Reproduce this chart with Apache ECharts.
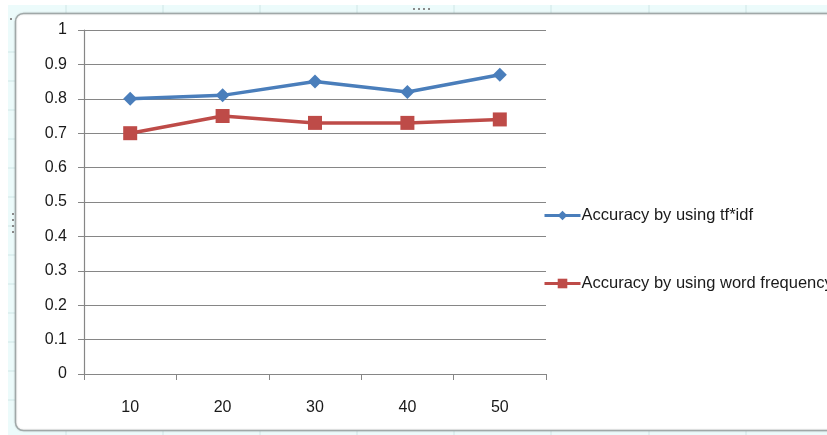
<!DOCTYPE html>
<html>
<head>
<meta charset="utf-8">
<script src="https://cdn.jsdelivr.net/npm/echarts@6/dist/echarts.min.js"></script>
<style>
html,body{margin:0;padding:0;background:#ffffff;}
#c{width:827px;height:435px;}
</style>
</head>
<body>
<div id="c"></div>
<script>
var categories = ['10', '20', '30', '40', '50'];
var tfidf = [0.80, 0.81, 0.85, 0.82, 0.87];
var wordFreq = [0.70, 0.75, 0.73, 0.73, 0.74];
var seriesNames = ['Accuracy by using tf*idf', 'Accuracy by using word frequency'];

var chart = echarts.init(document.getElementById('c'));
var font = 'Liberation Sans';

var bg = [];
bg.push({type:'rect', z:-10, silent:true, shape:{x:8,y:5,width:830,height:440}, style:{fill:'#ecfbfb'}});
[66,163,260,357,454,551,649,746].forEach(function(x){
  bg.push({type:'line', z:-9, silent:true, shape:{x1:x,y1:5,x2:x,y2:13}, style:{stroke:'#cfe6e6',lineWidth:1}});
  bg.push({type:'line', z:-9, silent:true, shape:{x1:x,y1:431,x2:x,y2:435}, style:{stroke:'#cfe6e6',lineWidth:1}});
});
[52,81,110,139,168,197,226,255,284,313,342,371,400].forEach(function(y){
  bg.push({type:'line', z:-9, silent:true, shape:{x1:8,y1:y,x2:15,y2:y}, style:{stroke:'#cfe6e6',lineWidth:1}});
});
bg.push({type:'rect', z:-8, silent:true, shape:{x:15.5,y:13.5,width:830,height:417,r:8},
  style:{fill:'#ffffff', stroke:'#a0a8a8', lineWidth:1.5, shadowColor:'rgba(0,0,0,0.15)', shadowBlur:2}});
[[10,18],[413,8],[418,8],[423,8],[428,8],[12,213],[12,219],[12,225],[12,231]].forEach(function(p){
  bg.push({type:'rect', z:-7, silent:true, shape:{x:p[0],y:p[1],width:2,height:2}, style:{fill:'#8a8a8a'}});
});

chart.setOption({
  animation:false,
  backgroundColor:'#ffffff',
  graphic: bg,
  grid:{left:84, right:281, top:30, bottom:61, containLabel:false},
  legend:{
    orient:'vertical', left:538, top:202,
    itemWidth:36, itemHeight:12, itemGap:51,
    lineStyle:{width:3},
    textStyle:{fontFamily:font, fontSize:16.5, color:'#1a1a1a', padding:[0,0,0,-4]},
    data:[seriesNames[0], seriesNames[1]]
  },
  xAxis:{
    type:'category', data:categories, boundaryGap:true,
    axisLine:{lineStyle:{color:'#868686', width:1.2}},
    axisTick:{show:true, length:6, lineStyle:{color:'#868686'}},
    axisLabel:{fontFamily:font, fontSize:16, color:'#1a1a1a', margin:26},
    splitLine:{show:false}
  },
  yAxis:{
    type:'value', min:0, max:1, interval:0.1,
    axisLine:{show:true, lineStyle:{color:'#868686', width:1.2}},
    axisTick:{show:true, length:6, lineStyle:{color:'#868686'}},
    axisLabel:{fontFamily:font, fontSize:16, color:'#1a1a1a', margin:17,
      formatter:function(v){return String(Math.round(v*10)/10);}},
    splitLine:{show:true, lineStyle:{color:'#868686', width:1}}
  },
  series:[
    {name:seriesNames[0], type:'line', data:tfidf, symbol:'diamond', symbolSize:14,
      lineStyle:{color:'#4a7ebb', width:3.5}, itemStyle:{color:'#4a7ebb'}},
    {name:seriesNames[1], type:'line', data:wordFreq, symbol:'rect', symbolSize:14,
      lineStyle:{color:'#be4b48', width:3.5}, itemStyle:{color:'#be4b48'}}
  ]
});
</script>
</body>
</html>
